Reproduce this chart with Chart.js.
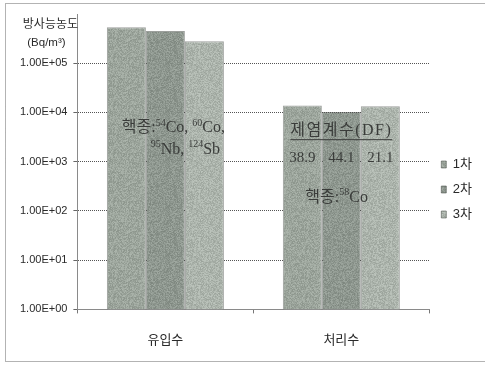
<!DOCTYPE html>
<html lang="ko">
<head>
<meta charset="utf-8">
<title>방사능농도</title>
<script src="https://cdn.jsdelivr.net/npm/chart.js@4/dist/chart.umd.min.js"></script>
<style>
  html, body { margin: 0; padding: 0; background: #ffffff; }
  #wrap { position: relative; width: 485px; height: 365px; }
</style>
</head>
<body>
<div id="wrap"><canvas id="chart" width="485" height="365"></canvas></div>
<script>
// Categories, series and ticks
const categories = ['유입수', '처리수'];
const seriesNames = ['1차', '2차', '3차'];
const run1 = [540000, 13900];
const run2 = [450000, 10200];
const run3 = [280000, 13300];
const yTickValues = [1, 10, 100, 1000, 10000, 100000, 1000000];
const dfValues = ['38.9', '44.1', '21.1'];

const baseColors = [[156, 165, 156], [142, 151, 143], [172, 180, 172]];

// grainy fill, deterministic hash noise
function grainFill(rgb, seed) {
  const c = document.createElement('canvas');
  c.width = 48; c.height = 48;
  const g = c.getContext('2d');
  const img = g.createImageData(48, 48);
  let s = seed;
  const next = () => { s = (s * 1103515245 + 12345) & 0x7fffffff; return s / 0x7fffffff; };
  for (let i = 0; i < 48 * 48; i++) {
    const v = (next() - 0.5) * 34;
    img.data[i * 4] = Math.max(0, Math.min(255, rgb[0] + v));
    img.data[i * 4 + 1] = Math.max(0, Math.min(255, rgb[1] + v));
    img.data[i * 4 + 2] = Math.max(0, Math.min(255, rgb[2] + v));
    img.data[i * 4 + 3] = 255;
  }
  g.putImageData(img, 0, 0);
  return g.createPattern(c, 'repeat');
}

const fills = baseColors.map((c, i) => grainFill(c, 17 + i * 101));

function sciLabel(v) {
  const e = Math.round(Math.log10(v));
  const m = v / Math.pow(10, e);
  return m.toFixed(2) + 'E+' + String(e).padStart(2, '0');
}

const SERIF = '"Liberation Serif", "Noto Sans CJK KR", serif';

// draws a line of text with superscript runs
function drawRuns(ctx, runs, x, y, align) {
  const base = '16px ' + SERIF;
  const sup = '10px ' + SERIF;
  let total = 0;
  runs.forEach(([t, isSup]) => { ctx.font = isSup ? sup : base; total += ctx.measureText(t).width; });
  let cx = align === 'center' ? x - total / 2 : x;
  ctx.textAlign = 'left';
  ctx.textBaseline = 'middle';
  runs.forEach(([t, isSup]) => {
    ctx.font = isSup ? sup : base;
    ctx.fillText(t, cx, isSup ? y - 5 : y);
    cx += ctx.measureText(t).width;
  });
  return total;
}

const framePlugin = {
  id: 'frame',
  beforeDraw(chart) {
    const ctx = chart.ctx;
    ctx.save();
    ctx.fillStyle = '#ffffff';
    ctx.fillRect(0, 0, chart.width, chart.height);
    ctx.strokeStyle = '#666';
    ctx.lineWidth = 1;
    ctx.setLineDash([1, 1]);
    ctx.strokeRect(5.5, 3.5, chart.width + 10, 358);
    ctx.restore();
  }
};

const notesPlugin = {
  id: 'notes',
  afterDatasetsDraw(chart) {
    const ctx = chart.ctx;
    const x = chart.scales.x, y = chart.scales.y;
    const at = (p) => y.getPixelForValue(Math.pow(10, p));
    ctx.save();
    ctx.fillStyle = '#3a3c3a';
    // influent: nuclides
    const c0 = x.getPixelForValue(0);
    drawRuns(ctx, [['핵종:', false], ['54', true], ['Co, ', false], ['60', true], ['Co,', false]], c0 + 8, at(3.68), 'center');
    drawRuns(ctx, [['95', true], ['Nb, ', false], ['124', true], ['Sb', false]], c0 + 20, at(3.25), 'center');
    // effluent: decontamination factors
    const c1 = x.getPixelForValue(1);
    ctx.font = '16px ' + SERIF;
    ctx.letterSpacing = '1.5px';
    ctx.textAlign = 'center';
    ctx.textBaseline = 'middle';
    const title = '제염계수(DF)';
    const ty = at(3.62);
    ctx.fillText(title, c1, ty);
    const tw = ctx.measureText(title).width;
    ctx.letterSpacing = '0px';
    ctx.strokeStyle = '#3a3c3a';
    ctx.lineWidth = 1;
    ctx.beginPath();
    ctx.moveTo(c1 - tw / 2, ty + 8.5);
    ctx.lineTo(c1 + tw / 2, ty + 8.5);
    ctx.stroke();
    ctx.font = '15px ' + SERIF;
    dfValues.forEach((v, i) => {
      const bar = chart.getDatasetMeta(i).data[1];
      ctx.fillText(v, bar.x, at(3.07));
    });
    const b0 = chart.getDatasetMeta(0).data[1];
    drawRuns(ctx, [['핵종:', false], ['58', true], ['Co', false]], b0.x + 3, at(2.27), 'left');
    ctx.restore();
  }
};

const axisTitlePlugin = {
  id: 'axisTitle',
  afterDraw(chart) {
    const ctx = chart.ctx;
    const left = chart.chartArea.left;
    ctx.save();
    ctx.fillStyle = '#2a2a2a';
    ctx.textAlign = 'center';
    ctx.textBaseline = 'middle';
    ctx.font = '12px "Noto Sans CJK KR", sans-serif';
    ctx.fillText('방사능농도', left - 27, 23);
    ctx.font = '11.5px "Liberation Sans", sans-serif';
    ctx.fillText('(Bq/m³)', left - 31, 43);
    ctx.restore();
  }
};

const datasets = [run1, run2, run3].map((vals, i) => ({
  label: seriesNames[i],
  data: vals,
  backgroundColor: fills[i],
  borderColor: 'rgba(75, 80, 75, 0.55)',
  borderWidth: 1,
  borderSkipped: 'bottom',
  barPercentage: 1.0,
  categoryPercentage: 0.665
}));

new Chart(document.getElementById('chart'), {
  type: 'bar',
  data: { labels: categories, datasets },
  plugins: [framePlugin, notesPlugin, axisTitlePlugin],
  options: {
    responsive: false,
    animation: false,
    layout: { padding: { left: 14, right: 3, top: 14, bottom: 0 } },
    plugins: {
      legend: {
        position: 'right',
        labels: {
          boxWidth: 5,
          boxHeight: 7,
          padding: 12,
          color: '#2a2a2a',
          font: { family: '"Liberation Sans", "Noto Sans CJK KR", sans-serif', size: 13 }
        }
      },
      tooltip: { enabled: false }
    },
    scales: {
      x: {
        grid: { drawOnChartArea: false, drawTicks: true, tickLength: 4, color: '#777' },
        border: { display: true, color: '#8a8a8a', width: 1 },
        ticks: {
          padding: 18,
          color: '#2a2a2a',
          font: { family: '"Noto Sans CJK KR", sans-serif', size: 13 }
        }
      },
      y: {
        type: 'logarithmic',
        min: 1,
        max: 1000000,
        afterBuildTicks(scale) {
          scale.ticks = yTickValues.map(v => ({ value: v }));
        },
        grid: {
          tickLength: 4,
          lineWidth: 1,
          color: (ctx) => (ctx.tick && ctx.tick.value === 1000000) ? 'rgba(0,0,0,0)' : '#555',
          tickColor: (ctx) => (ctx.tick && ctx.tick.value === 1000000) ? 'rgba(0,0,0,0)' : '#666'
        },
        border: { display: true, color: '#8a8a8a', width: 1, dash: [1, 1] },
        ticks: {
          padding: 6,
          color: '#2a2a2a',
          font: { family: '"Liberation Sans", sans-serif', size: 11 },
          callback: (v) => (v === 1000000 ? '' : sciLabel(v))
        }
      }
    }
  }
});
</script>
</body>
</html>
